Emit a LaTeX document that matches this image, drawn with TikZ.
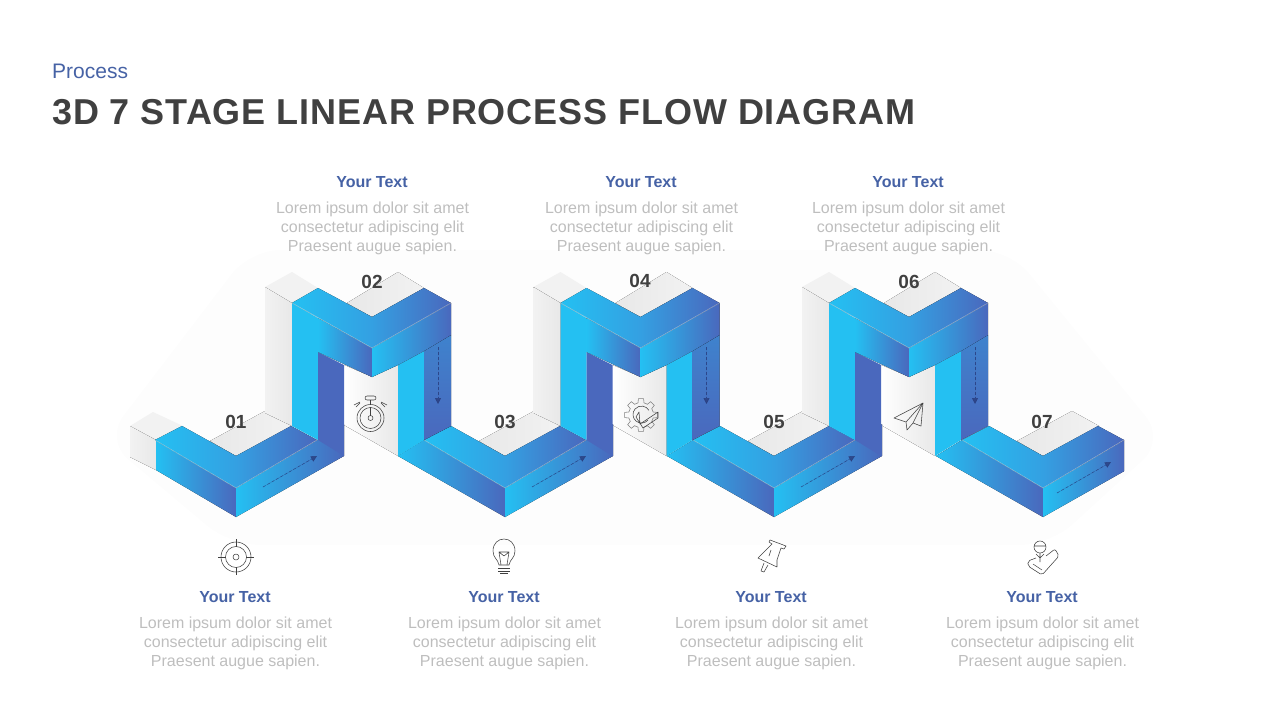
\documentclass[tikz,border=0pt]{standalone}
\usepackage{fontspec}
\setmainfont{Liberation Sans}
\usetikzlibrary{arrows.meta,calc,positioning}
\definecolor{StageCyan}{RGB}{36,192,242}
\definecolor{StageMid}{RGB}{52,160,226}
\definecolor{StageBlue}{RGB}{74,104,189}
\definecolor{StageNavy}{RGB}{40,60,125}
\definecolor{HeadBlue}{RGB}{70,98,165}
\definecolor{BodyGrey}{RGB}{190,190,190}
\definecolor{TitleGrey}{RGB}{64,64,64}
\definecolor{BackGrey}{RGB}{232,232,232}
\definecolor{PaleGrey}{RGB}{242,242,242}
\definecolor{HaloGrey}{RGB}{253,253,253}
\tikzset{
  fullgrad/.style={left color=StageCyan,middle color=StageCyan!72!StageBlue,right color=StageBlue},
  topgrad/.style={left color=StageCyan,right color=StageBlue,middle color=StageMid},
  backgrad/.style={left color=PaleGrey,right color=BackGrey},
  edgeline/.style={draw=white,opacity=.5,line width=.5pt},
  flowarrow/.style={draw=StageNavy,fill=StageNavy,densely dashed,line width=.5pt,opacity=.8,-{Triangle[length=6pt,width=6pt]}},
  icon/.style={draw=TitleGrey,line width=.55pt,line join=round},
  stagenum/.style={font=\fontsize{19}{19}\selectfont\bfseries,text=TitleGrey},
  stagehead/.style={font=\fontsize{16}{19}\selectfont\bfseries,text=HeadBlue},
  stagebody/.style={font=\fontsize{16}{19}\selectfont,text=BodyGrey,align=center}
}
\begin{document}
\begin{tikzpicture}[x=1pt,y=-1pt]
  \useasboundingbox (0,0) rectangle (1280,720);
  \fill[HaloGrey,rounded corners=30pt] (105,440)--(250,250)--(1010,250)--(1165,440)--(1050,545)--(230,545)--cycle;
  % grey backs
  \fill[PaleGrey] (130,426)--(153,412)--(183,426)--(156,440)--cycle;
  \fill[backgrad] (130,426)--(156,440)--(156,470)--(130,457)--cycle;
  \foreach \xc in {236,505,774,1043}
    \fill[left color=BackGrey,right color=PaleGrey]
      (\xc-26,441)--(\xc+29,411)--(\xc+56,426)--(\xc,456)--cycle;
  \foreach \xm in {372,640.5,909}{
    \fill[PaleGrey] (\xm-107,287)--(\xm-80,272)--(\xm-54,288)--(\xm-80,303)--cycle;
    \fill[backgrad] (\xm-107,287)--(\xm-80,303)--(\xm-80,426)--(\xm-107,413)--cycle;
    \fill[left color=BackGrey,right color=PaleGrey] (\xm-25,303)--(\xm+26,272)--(\xm+52,288)--(\xm,317)--cycle;
    \fill[left color=white,middle color=PaleGrey!50!white,right color=BackGrey]
      (\xm-28,365)--(\xm,377)--(\xm+26,365)--(\xm+26,456)--(\xm,441)--(\xm-28,425)--cycle;
  }
  % lower bends
  \fill[fullgrad] (156,440)--(236,488)--(236,517)--(156,470)--cycle;
  \foreach \xc in {505,774,1043}
    \fill[fullgrad] (\xc-107,456)--(\xc-81,440)--(\xc,488)--(\xc,517)--cycle;
  \foreach \xc/\xe in {236/108,505/108,774/108,1043/81}{
    \fill[fullgrad] (\xc,488)--({\xc+\xe},{488-.59*\xe})--({\xc+\xe},{517-.565*\xe})--(\xc,517)--cycle;
    \fill[topgrad] (\xc-81,440)--(\xc-54,426)--(\xc,456)--(\xc+55,426)--(\xc+81,440)--(\xc,488)--cycle;
    \draw[edgeline] (\xc-81,440)--(\xc,488)--(\xc+81,440);
  }
  % upper bends
  \foreach \xm in {372,640.5,909}{
    \fill[StageCyan] (\xm-80,303)--(\xm-54,318)--(\xm-54,440)--(\xm-80,426)--cycle;
    \fill[StageBlue] (\xm-54,352)--(\xm-28,365)--(\xm-28,456)--(\xm-54,440)--cycle;
    \fill[fullgrad] (\xm-54,318)--(\xm,348)--(\xm,377)--(\xm-54,352)--cycle;
    \fill[StageCyan] (\xm+26,365)--(\xm+52,351)--(\xm+52,440)--(\xm+26,456)--cycle;
    \fill[top color=StageBlue!70!StageCyan,middle color=StageBlue,bottom color=StageBlue] (\xm+52,351)--(\xm+79,335)--(\xm+79,426)--(\xm+52,440)--cycle;
    \fill[fullgrad] (\xm,348)--(\xm+79,303)--(\xm+79,335)--(\xm+52,351)--(\xm+26,365)--(\xm,377)--cycle;
    \fill[topgrad] (\xm-80,303)--(\xm-54,288)--(\xm,317)--(\xm+52,288)--(\xm+79,303)--(\xm,348)--cycle;
    \draw[edgeline] (\xm-80,303)--(\xm,348)--(\xm+79,303);
    \draw[flowarrow] (\xm+66,347)--(\xm+66,404);
  }
  \foreach \xc in {236,505,774}
    \draw[flowarrow] (\xc+27,487)--(\xc+81,456);
  \draw[flowarrow] (1057,493)--(1111,462);
  % heading
  \node[anchor=west,font=\fontsize{21}{21}\selectfont,text=HeadBlue,inner sep=0pt] (subtitle) at (52,71) {Process};
  \node[anchor=west,font=\fontsize{36}{36}\selectfont\bfseries\addfontfeature{LetterSpace=2.5},text=TitleGrey,inner sep=0pt] (title) at (52,112) {3D 7 STAGE LINEAR PROCESS FLOW DIAGRAM};
  % numbers and texts
  \foreach \n/\x/\y in {01/236/422,02/372/282,03/505/422,04/640/281,05/774/422,06/909/282,07/1042/422}
    \node[stagenum] (num\n) at (\x,\y) {\n};
  \foreach \n/\x/\y in {a/372/182,b/641/182,c/908/182,d/235/597,e/504/597,f/771/597,g/1042/597}{
    \node[stagehead] (head\n) at (\x,\y) {Your Text};
    \node[stagebody] (body\n) at (\x+.5,\y+46) {Lorem ipsum dolor sit amet\\consectetur adipiscing elit\\Praesent augue sapien.};
  }
  % target
  \draw[icon] (236,557) circle (15) (236,557) circle (10.5) (236,557) circle (3);
  \draw[icon] (218,557)--(226,557) (246,557)--(254,557) (236,539)--(236,547) (236,567)--(236,575);
  % stopwatch
  \draw[icon] (370.5,418) circle (13.5) (370.5,418) circle (10.5) (370.5,418) circle (2.5);
  \draw[icon] (370.5,415.5)--(370.5,407) (370.5,404.5)--(370.5,400);
  \draw[icon,rounded corners=2pt] (365,396) rectangle (376,400);
  \draw[icon] (356,407)--(360,403) (354,405)--(360,402) (381,403)--(385,407) (381,402)--(387,405);
  % gear
  \draw[icon,draw=gray] ({641+12.5*cos(-14)},{415+12.5*sin(-14)})
    \foreach \a in {0,45,...,315}{ --({641+12.5*cos(\a-14)},{415+12.5*sin(\a-14)}) --({641+16.5*cos(\a-9)},{415+16.5*sin(\a-9)}) --({641+16.5*cos(\a+9)},{415+16.5*sin(\a+9)}) --({641+12.5*cos(\a+14)},{415+12.5*sin(\a+14)}) } --cycle;
  \draw[icon] (648,420) arc[start angle=40,end angle=330,radius=8.5];
  \draw[icon] (640,424)--(658,412)--(658,418)--(643,428)--(636,417)--(639,412)--cycle;
  % paper plane
  \draw[icon] (923,403)--(894,418)--(906,422)--(923,403)--(921,426)--(913,423)--(907,430)--(906,422);
  \draw[icon] (913,423)--(923,403);
  % bulb
  \draw[icon] (499,565) .. controls (498,559) and (493,558) .. (493,551) .. controls (493,535) and (515,535) .. (515,551) .. controls (515,558) and (510,559) .. (509,565) --cycle;
  \draw[icon] (501,565)--(499,552)--(509,552)--(507,565) (499,552)--(504,556)--(509,552);
  \draw[icon] (498,568)--(510,568) (498,571)--(510,571) (500,573.5)--(508,573.5);
  % pin
  \draw[icon] (770,540)--(786,546)--(784,549)--(781,548)--(777,560)--(777,567)--(758,558)--(763,553)--(772,544)--(769,542)--cycle;
  \draw[icon] (764,563)--(761,571)--(764,572)--(768,565);
  \draw[icon] (771,550)--(769,556);
  % person on map
  \draw[icon] (1040,547) circle (6) (1034,546)--(1046,546);
  \draw[icon] (1040,553)--(1040,562) (1036,554)--(1040,558)--(1044,554);
  \draw[icon,rounded corners=2pt] (1036,558)--(1028,561)--(1028,566)--(1042,575)--(1059,556)--(1055,549)--(1046,556);
  \draw[icon] (1033,564)--(1042,570);
\end{tikzpicture}
\end{document}
